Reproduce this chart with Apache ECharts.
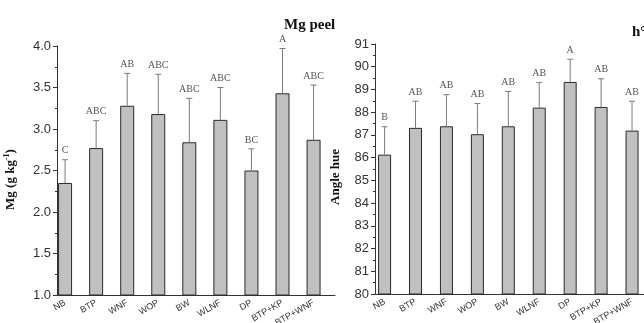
<!DOCTYPE html>
<html>
<head>
<meta charset="utf-8">
<script src="https://cdn.jsdelivr.net/npm/echarts@6/dist/echarts.min.js"></script>
<style>
html,body{margin:0;padding:0;background:#fff;}
#chart{width:644px;height:323px;}
</style>
</head>
<body>
<div id="chart"></div>
<script>
// treatments, same order in both panels
const cats = ['NB', 'BTP', 'WNF', 'WOP', 'BW', 'WLNF', 'DP', 'BTP+KP', 'BTP+WNF'];
const xPos = [1, 2, 3, 4, 5, 6, 7, 8, 9];

// Mg peel (g kg-1)
const mgMean = [2.35, 2.77, 3.28, 3.18, 2.84, 3.11, 2.50, 3.43, 2.87];
const mgSd = [0.28, 0.33, 0.39, 0.48, 0.53, 0.39, 0.26, 0.54, 0.66];
const mgLetters = ['C', 'ABC', 'AB', 'ABC', 'ABC', 'ABC', 'BC', 'A', 'ABC'];
const mgTicks = ['1.0', '1.5', '2.0', '2.5', '3.0', '3.5', '4.0'];

// hue angle h°
const hueMean = [86.13, 87.31, 87.38, 87.03, 87.38, 88.20, 89.33, 88.23, 87.19];
const hueSd = [1.23, 1.17, 1.39, 1.35, 1.53, 1.11, 1.00, 1.24, 1.29];
const hueLetters = ['B', 'AB', 'AB', 'AB', 'AB', 'AB', 'A', 'AB', 'AB'];
const hueTicks = ['80', '81', '82', '83', '84', '85', '86', '87', '88', '89', '90', '91'];

const chart = echarts.init(document.getElementById('chart'));

const serif = '"Liberation Serif", "Times New Roman", serif';
const sans = '"Liberation Sans", Arial, sans-serif';

function barData(means) {
    return means.map((m, i) => [xPos[i], m]);
}
function errData(means, sds) {
    return means.map((m, i) => [xPos[i], m, m + sds[i]]);
}
function errRenderer(letters) {
    return function (params, api) {
        const x = api.value(0);
        const p0 = api.coord([x, api.value(1)]);
        const p1 = api.coord([x, api.value(2)]);
        return {
            type: 'group',
            children: [
                { type: 'line', shape: { x1: p0[0], y1: p0[1], x2: p1[0], y2: p1[1] }, style: { stroke: '#7a7a7a', lineWidth: 1 } },
                { type: 'line', shape: { x1: p1[0] - 3, y1: p1[1], x2: p1[0] + 3, y2: p1[1] }, style: { stroke: '#7a7a7a', lineWidth: 1 } },
                { type: 'text', x: p1[0], y: p1[1] - 4, style: { text: letters[params.dataIndex], fill: '#555', font: '10px ' + serif, textAlign: 'center', textVerticalAlign: 'bottom' } }
            ]
        };
    };
}

function xAxisCfg(idx, min, max) {
    return {
        gridIndex: idx, type: 'value', min: min, max: max,
        axisLine: { onZero: false, lineStyle: { color: '#333', width: 1 } },
        axisTick: { show: false },
        splitLine: { show: false },
        axisLabel: {
            customValues: xPos,
            formatter: v => cats[Math.round(v) - 1],
            rotate: 30, margin: 7,
            fontSize: 9, fontFamily: sans, color: '#333'
        }
    };
}
function yAxisCfg(idx, min, max, interval, ticks, name, nameGap, shift) {
    return {
        gridIndex: idx, type: 'value', min: min, max: max, interval: interval,
        name: name, nameLocation: 'middle', nameGap: nameGap,
        nameTextStyle: {
            fontFamily: serif, fontWeight: 'bold', fontSize: 13, color: '#111',
            padding: [0, shift, 0, 0],
            rich: { sup: { fontFamily: serif, fontWeight: 'bold', fontSize: 8, verticalAlign: 'top', padding: [0, 0, 8, 0] } }
        },
        axisLine: { show: true, lineStyle: { color: '#333', width: 1 } },
        axisTick: { show: true, length: 4, lineStyle: { color: '#333' } },
        minorTick: { show: true, splitNumber: 2, length: 2, lineStyle: { color: '#333' } },
        splitLine: { show: false },
        axisLabel: {
            margin: 6, fontSize: 13, fontFamily: sans, color: '#333',
            formatter: v => ticks[Math.round((v - min) / interval)]
        }
    };
}

const barStyle = { color: '#c0c0c0', borderColor: '#2a2a2a', borderWidth: 1 };

const option = {
    animation: false,
    title: [
        { text: 'Mg peel', left: 279, top: 13, textStyle: { fontFamily: serif, fontWeight: 'bold', fontSize: 15, color: '#111' } },
        { text: 'h°', left: 627, top: 20, textStyle: { fontFamily: serif, fontWeight: 'bold', fontSize: 15, color: '#111' } }
    ],
    grid: [
        { left: 57, top: 46, width: 278, height: 249, outerBoundsMode: 'none' },
        { left: 375, top: 44, width: 279, height: 250, outerBoundsMode: 'none' }
    ],
    xAxis: [
        xAxisCfg(0, 0.74, 9.69),
        xAxisCfg(1, 0.69, 9.71)
    ],
    yAxis: [
        yAxisCfg(0, 1, 4, 0.5, mgTicks, 'Mg (g kg{sup|-1})', 38, 18),
        yAxisCfg(1, 80, 91, 1, hueTicks, 'Angle hue', 33, 16)
    ],
    series: [
        { type: 'bar', xAxisIndex: 0, yAxisIndex: 0, barWidth: 14, data: barData(mgMean), itemStyle: barStyle },
        { type: 'custom', xAxisIndex: 0, yAxisIndex: 0, data: errData(mgMean, mgSd), renderItem: errRenderer(mgLetters), z: 5 },
        { type: 'bar', xAxisIndex: 1, yAxisIndex: 1, barWidth: 13, data: barData(hueMean), itemStyle: barStyle },
        { type: 'custom', xAxisIndex: 1, yAxisIndex: 1, data: errData(hueMean, hueSd), renderItem: errRenderer(hueLetters), z: 5 }
    ]
};

chart.setOption(option);
</script>
</body>
</html>
